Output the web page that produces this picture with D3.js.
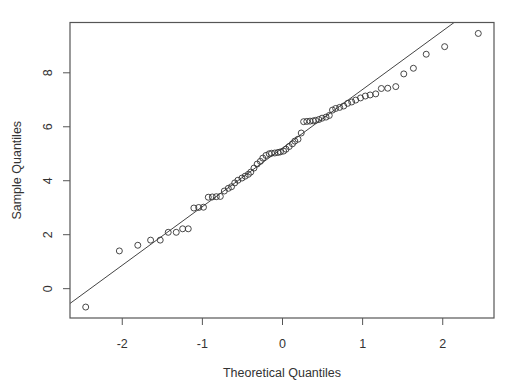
<!DOCTYPE html>
<html>
<head>
<meta charset="utf-8">
<script src="https://cdn.jsdelivr.net/npm/d3@7.9.0/dist/d3.min.js"></script>
<style>
  body { margin: 0; background: #fff; }
  svg { display: block; font-family: "Liberation Sans", Arial, sans-serif; }
</style>
</head>
<body>
<svg id="chart" width="524" height="388"></svg>
<script>
// theoretical normal quantiles (x) and sorted sample values (y)
const theoretical = [
  -2.45, -2.03, -1.80, -1.64, -1.52, -1.42, -1.32, -1.24, -1.17, -1.10,
  -1.04, -0.98, -0.92, -0.87, -0.82, -0.77, -0.72, -0.67, -0.63, -0.59,
  -0.55, -0.50, -0.46, -0.42, -0.39, -0.35, -0.31, -0.27, -0.24, -0.20,
  -0.16, -0.13, -0.09, -0.05, -0.02, 0.02, 0.05, 0.09, 0.13, 0.16,
  0.20, 0.24, 0.27, 0.31, 0.35, 0.39, 0.42, 0.46, 0.50, 0.55,
  0.59, 0.63, 0.67, 0.72, 0.77, 0.82, 0.87, 0.92, 0.98, 1.04,
  1.10, 1.17, 1.24, 1.32, 1.42, 1.52, 1.64, 1.80, 2.03, 2.45
];
const sample = [
  -0.70, 1.38, 1.59, 1.78, 1.78, 2.07, 2.07, 2.20, 2.20, 2.97,
  2.99, 3.00, 3.37, 3.38, 3.39, 3.40, 3.60, 3.70, 3.76, 3.90,
  4.00, 4.08, 4.15, 4.22, 4.30, 4.45, 4.60, 4.70, 4.82, 4.92,
  4.98, 5.00, 5.01, 5.03, 5.05, 5.08, 5.15, 5.25, 5.35, 5.45,
  5.52, 5.75, 6.17, 6.18, 6.19, 6.20, 6.22, 6.25, 6.30, 6.34,
  6.40, 6.60, 6.66, 6.70, 6.75, 6.85, 6.90, 6.97, 7.05, 7.12,
  7.16, 7.20, 7.40, 7.41, 7.47, 7.94, 8.15, 8.67, 8.95, 9.44
];
const xTicks = [-2, -1, 0, 1, 2];
const yTicks = [0, 2, 4, 6, 8];
const xLabel = "Theoretical Quantiles";
const yLabel = "Sample Quantiles";

const svg = d3.select("#chart");
const margin = { left: 70, right: 30, top: 22.5, bottom: 70 };
const W = 524, H = 388;
const fontSize = "12.5px";

// R-style 4% padding on data range
function padded(ext) {
  const d = (ext[1] - ext[0]) * 0.04;
  return [ext[0] - d, ext[1] + d];
}

const x = d3.scaleLinear()
  .domain(padded(d3.extent(theoretical)))
  .range([margin.left, W - margin.right]);
const y = d3.scaleLinear()
  .domain(padded(d3.extent(sample)))
  .range([H - margin.bottom, margin.top]);

const ink = "#555";

// qqline through the first and third quartiles
const q1 = d3.quantile(sample, 0.25), q3 = d3.quantile(sample, 0.75);
const z = 0.6745;
const slope = (q3 - q1) / (2 * z);
const intercept = (q1 + q3) / 2;

svg.append("defs").append("clipPath").attr("id", "plotclip")
  .append("rect")
  .attr("x", x.range()[0]).attr("y", y.range()[1])
  .attr("width", x.range()[1] - x.range()[0])
  .attr("height", y.range()[0] - y.range()[1]);

const [x0, x1] = x.domain();
svg.append("line")
  .attr("clip-path", "url(#plotclip)")
  .attr("x1", x(x0)).attr("y1", y(intercept + slope * x0))
  .attr("x2", x(x1)).attr("y2", y(intercept + slope * x1))
  .attr("stroke", "#444").attr("stroke-width", 1);

svg.append("g")
  .selectAll("circle")
  .data(sample)
  .join("circle")
  .attr("cx", (d, i) => x(theoretical[i]))
  .attr("cy", d => y(d))
  .attr("r", 3)
  .attr("fill", "none")
  .attr("stroke", "#333")
  .attr("stroke-width", 0.9);

// box
svg.append("rect")
  .attr("x", x.range()[0]).attr("y", y.range()[1])
  .attr("width", x.range()[1] - x.range()[0])
  .attr("height", y.range()[0] - y.range()[1])
  .attr("fill", "none").attr("stroke", ink).attr("stroke-width", 1.2);

const xAxis = svg.append("g")
  .attr("transform", `translate(0,${y.range()[0]})`)
  .call(d3.axisBottom(x).tickValues(xTicks).tickSize(7).tickPadding(14).tickSizeOuter(0));
xAxis.select(".domain").remove();
xAxis.selectAll(".tick line").attr("stroke", ink);
xAxis.selectAll(".tick text")
  .attr("fill", "#333").style("font-size", fontSize)
  .text(d => d < 0 ? "-" + Math.abs(d) : d);

const yAxis = svg.append("g")
  .attr("transform", `translate(${x.range()[0]},0)`)
  .call(d3.axisLeft(y).tickValues(yTicks).tickSize(7).tickSizeOuter(0));
yAxis.select(".domain").remove();
yAxis.selectAll(".tick line").attr("stroke", ink);
yAxis.selectAll(".tick text")
  .attr("x", null).attr("dy", null)
  .attr("fill", "#333").style("font-size", fontSize)
  .attr("text-anchor", "middle")
  .attr("transform", "translate(-18,0) rotate(-90)");

svg.append("text")
  .attr("x", (x.range()[0] + x.range()[1]) / 2)
  .attr("y", 377)
  .attr("text-anchor", "middle")
  .attr("fill", "#333").style("font-size", fontSize)
  .text(xLabel);

svg.append("text")
  .attr("transform", `translate(21,${(y.range()[0] + y.range()[1]) / 2}) rotate(-90)`)
  .attr("text-anchor", "middle")
  .attr("fill", "#333").style("font-size", fontSize)
  .text(yLabel);
</script>
</body>
</html>
